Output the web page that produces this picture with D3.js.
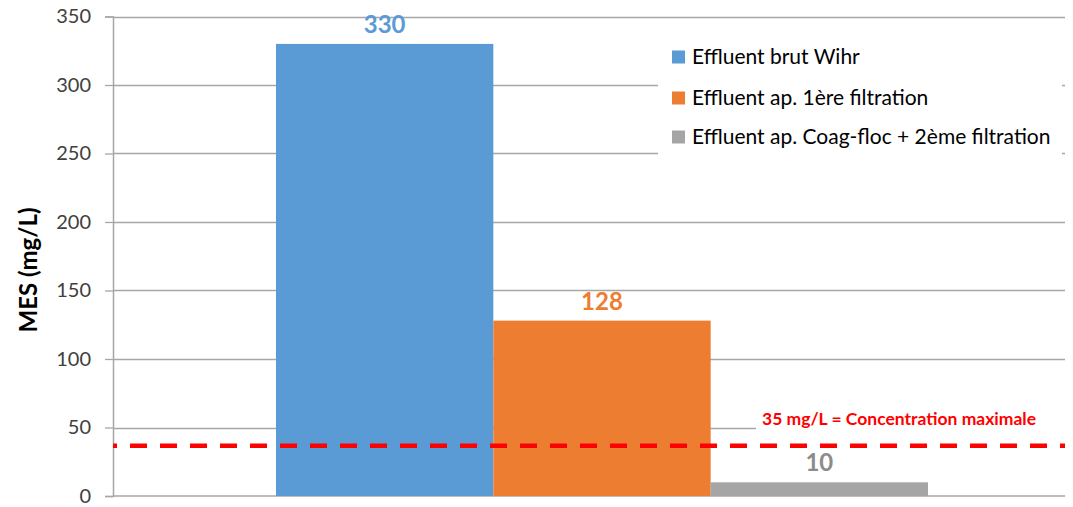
<!DOCTYPE html>
<html>
<head>
<meta charset="utf-8">
<script src="https://cdn.jsdelivr.net/npm/d3@7"></script>
<style>
  html, body { margin: 0; padding: 0; background: #fff; }
  svg { display: block; font-family: Lato, "Open Sans", sans-serif; }
</style>
</head>
<body>
<svg id="chart" width="1073" height="507"></svg>
<script>
// ---- data ----
const seriesNames = ["Effluent brut Wihr", "Effluent ap. 1ère filtration", "Effluent ap. Coag-floc + 2ème filtration"];
const seriesValues = [330, 128, 10];
const seriesColors = ["#5B9BD5", "#ED7D31", "#A5A5A5"];
const labelColors = ["#5B9BD5", "#ED7D31", "#8C8C8C"];
const yTicks = [0, 50, 100, 150, 200, 250, 300, 350];
const yTitle = "MES (mg/L)";
const thresholdValue = 36.7;
const thresholdLabel = "35 mg/L = Concentration maximale";

// ---- layout ----
const svg = d3.select("#chart");
const plotLeft = 113, plotRight = 1065, plotTop = 16.5, plotBottom = 496;

const y = d3.scaleLinear().domain([0, 350]).range([plotBottom, plotTop]);
const x = d3.scaleBand().domain(seriesNames).range([276, 928]).padding(0);

// gridlines
svg.append("g").selectAll("line").data(yTicks.filter(d => d > 0)).join("line")
  .attr("x1", plotLeft).attr("x2", plotRight)
  .attr("y1", d => Math.round(y(d)) + 0.5).attr("y2", d => Math.round(y(d)) + 0.5)
  .attr("stroke", "#A6A6A6").attr("stroke-width", 1.3);

// y axis
const yAxis = d3.axisLeft(y).tickValues(yTicks).tickSize(8).tickPadding(14);
const gy = svg.append("g").attr("transform", `translate(${plotLeft},0)`).call(yAxis);
gy.select(".domain").attr("stroke", "#A6A6A6").attr("stroke-width", 1.5);
gy.selectAll(".tick line").attr("stroke", "#A6A6A6").attr("stroke-width", 1.3);
gy.selectAll(".tick text").attr("font-family", "Lato, sans-serif").attr("font-size", 20).attr("fill", "#404040");

// x axis baseline
svg.append("line").attr("x1", plotLeft).attr("x2", plotRight)
  .attr("y1", y(0)).attr("y2", y(0)).attr("stroke", "#A6A6A6").attr("stroke-width", 1.5);

// bars
svg.append("g").selectAll("rect").data(seriesValues).join("rect")
  .attr("x", (d, i) => x(seriesNames[i]))
  .attr("width", x.bandwidth())
  .attr("y", d => y(d))
  .attr("height", d => y(0) - y(d))
  .attr("fill", (d, i) => seriesColors[i]);

// value labels
svg.append("g").selectAll("text").data(seriesValues).join("text")
  .attr("x", (d, i) => x(seriesNames[i]) + x.bandwidth() / 2)
  .attr("y", d => y(d) - 11)
  .attr("text-anchor", "middle")
  .attr("font-size", 24).attr("font-weight", "bold")
  .attr("fill", (d, i) => labelColors[i])
  .text(d => d);

// threshold label background + text
svg.append("rect").attr("x", 756).attr("y", 406).attr("width", 309).attr("height", 32).attr("fill", "#fff");
svg.append("text").attr("x", 762).attr("y", 425)
  .attr("font-size", 17.5).attr("font-weight", "bold").attr("fill", "#FF0000")
  .text(thresholdLabel);

// threshold dashed line
svg.append("line").attr("x1", plotLeft).attr("x2", plotRight)
  .attr("y1", y(thresholdValue)).attr("y2", y(thresholdValue))
  .attr("stroke", "#FF0000").attr("stroke-width", 4.5)
  .attr("stroke-dasharray", "17,13").attr("stroke-dashoffset", 13);

// legend
svg.append("rect").attr("x", 658).attr("y", 32).attr("width", 404).attr("height", 130).attr("fill", "#fff");
const legendY = [57, 98, 137];
const lg = svg.append("g").selectAll("g").data(seriesNames).join("g")
  .attr("transform", (d, i) => `translate(672,${legendY[i]})`);
lg.append("rect").attr("x", 0).attr("y", -6.5).attr("width", 13).attr("height", 13)
  .attr("fill", (d, i) => seriesColors[i]);
lg.append("text").attr("x", 20).attr("y", 0).attr("dy", "0.35em")
  .attr("font-size", 21).attr("fill", "#000").text(d => d);

// y title
svg.append("text")
  .attr("transform", `translate(37,270) rotate(-90)`)
  .attr("text-anchor", "middle")
  .attr("font-size", 24).attr("font-weight", "bold").attr("fill", "#000")
  .text(yTitle);
</script>
</body>
</html>
